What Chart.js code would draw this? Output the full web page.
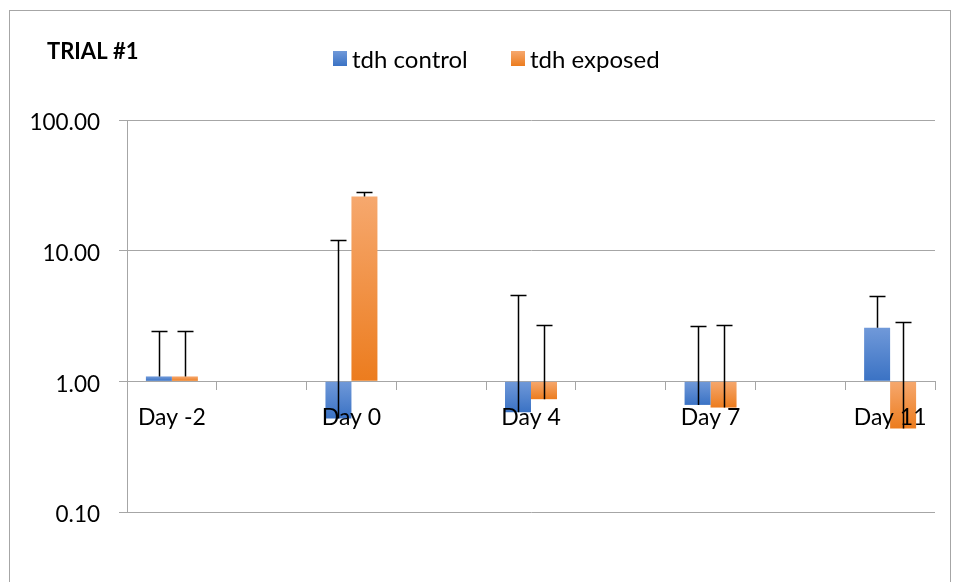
<!DOCTYPE html>
<html>
<head>
<meta charset="utf-8">
<script src="https://cdn.jsdelivr.net/npm/chart.js@4/dist/chart.umd.min.js"></script>
<style>
  html, body { margin: 0; padding: 0; background: #fff; }
  #wrap { position: relative; width: 957px; height: 582px; }
</style>
</head>
<body>
<div id="wrap"><canvas id="chart" width="957" height="582"></canvas></div>
<script>
// Sampling days and the fold-change values for each group (log axis, bars grow from 1)
const days = ['Day -2', 'Day 0', 'Day 4', 'Day 7', 'Day 11'];
const controlMean = [1.09, 0.52, 0.58, 0.66, 2.57];
const controlErr  = [1.32, 11.6, 4.01, 1.97, 1.91];
const exposedMean = [1.09, 26.0, 0.73, 0.63, 0.435];
const exposedErr  = [1.32, 2.2, 1.95, 2.08, 2.42];
const yTicks = [0.1, 1, 10, 100];
const seriesNames = ['tdh control', 'tdh exposed'];
const chartTitle = 'TRIAL #1';

const FONT = 'Lato, "Liberation Sans", sans-serif';
const GRID = '#a6a6a6';
const BLUE = ['#7099d9', '#3a72c4'];
const ORANGE = ['#f6a86e', '#ec7c1e'];

// Put an empty slot between consecutive days so the groups sit apart
function spaced(arr, fill) {
  const out = [];
  arr.forEach((v, i) => { if (i) out.push(fill); out.push(v); });
  return out;
}

// Vertical gradient per bar, light at the top and dark at the bottom
function barFill(colors) {
  return (ctx) => {
    const chart = ctx.chart;
    const y = chart.scales && chart.scales.y;
    if (!chart.chartArea || !y || ctx.raw == null) return colors[1];
    const a = y.getPixelForValue(ctx.raw);
    const b = y.getPixelForValue(1);
    const top = Math.min(a, b), bot = Math.max(a, b);
    if (bot - top < 1) return colors[1];
    const g = chart.ctx.createLinearGradient(0, top, 0, bot);
    g.addColorStop(0, colors[0]);
    g.addColorStop(1, colors[1]);
    return g;
  };
}

// Positive error bars: a stem from the bar end up to value + error, with a cap
const errorBars = {
  id: 'errorBars',
  afterDatasetsDraw(chart) {
    const ctx = chart.ctx;
    const y = chart.scales.y;
    ctx.save();
    ctx.strokeStyle = '#000';
    ctx.lineWidth = 1.5;
    chart.data.datasets.forEach((ds, di) => {
      const meta = chart.getDatasetMeta(di);
      meta.data.forEach((bar, i) => {
        const v = ds.data[i], e = ds.errorPlus[i];
        if (v == null || e == null) return;
        const x = Math.round(bar.x) + 0.5;
        const y0 = y.getPixelForValue(v);
        const y1 = Math.round(y.getPixelForValue(v + e)) + 0.5;
        ctx.beginPath();
        ctx.moveTo(x, y0);
        ctx.lineTo(x, y1);
        ctx.moveTo(x - 8, y1);
        ctx.lineTo(x + 8, y1);
        ctx.stroke();
      });
    });
    ctx.restore();
  }
};

// Frame, title and legend
const decorations = {
  id: 'decorations',
  beforeDraw(chart) {
    const ctx = chart.ctx;
    ctx.save();
    ctx.fillStyle = '#fff';
    ctx.fillRect(0, 0, chart.width, chart.height);
    ctx.strokeStyle = GRID;
    ctx.lineWidth = 1;
    ctx.strokeRect(9.5, 10.5, 941, 620);

    ctx.fillStyle = '#000';
    ctx.textBaseline = 'middle';
    ctx.textAlign = 'left';
    ctx.font = 'bold 22px ' + FONT;
    ctx.fillText(chartTitle, 47, 52);

    const items = [
      { x: 333, colors: BLUE },
      { x: 511, colors: ORANGE }
    ];
    ctx.font = '24px ' + FONT;
    items.forEach((it, i) => {
      const g = ctx.createLinearGradient(0, 51, 0, 66);
      g.addColorStop(0, it.colors[0]);
      g.addColorStop(1, it.colors[1]);
      ctx.fillStyle = g;
      ctx.fillRect(it.x, 51, 14, 15);
      ctx.fillStyle = '#000';
      ctx.fillText(chart.data.datasets[i].label, it.x + 19, 60);
    });
    ctx.restore();
  }
};

new Chart(document.getElementById('chart'), {
  type: 'bar',
  data: {
    labels: spaced(days, ''),
    datasets: [
      {
        label: seriesNames[0],
        data: spaced(controlMean, null),
        errorPlus: spaced(controlErr, null),
        base: 1,
        backgroundColor: barFill(BLUE),
        borderWidth: 0
      },
      {
        label: seriesNames[1],
        data: spaced(exposedMean, null),
        errorPlus: spaced(exposedErr, null),
        base: 1,
        backgroundColor: barFill(ORANGE),
        borderWidth: 0
      }
    ]
  },
  options: {
    responsive: false,
    animation: false,
    devicePixelRatio: 1,
    layout: { padding: { top: 120, right: 22, bottom: 70, left: 0 } },
    datasets: { bar: { barPercentage: 1, categoryPercentage: 0.579 } },
    plugins: {
      legend: { display: false },
      title: { display: false },
      tooltip: { enabled: false }
    },
    scales: {
      x: {
        type: 'category',
        position: { y: 1 },
        offset: true,
        grid: { offset: true, drawOnChartArea: false, drawTicks: true, tickLength: 8, color: GRID },
        border: { color: GRID },
        ticks: {
          z: 1,
          autoSkip: false, maxRotation: 0,
          color: '#000', padding: 14,
          font: { family: FONT, size: 23 }
        }
      },
      y: {
        type: 'logarithmic',
        min: 0.1,
        max: 100,
        afterBuildTicks(scale) { scale.ticks = yTicks.map(v => ({ value: v })); },
        afterFit(scale) { scale.width = 127; },
        grid: { color: GRID, tickLength: 8 },
        border: { color: GRID },
        ticks: {
          color: '#000', padding: 19, labelOffset: 3,
          font: { family: FONT, size: 22.5 },
          callback: (v) => Number(v).toFixed(2)
        }
      }
    }
  },
  plugins: [decorations, errorBars]
});
</script>
</body>
</html>
